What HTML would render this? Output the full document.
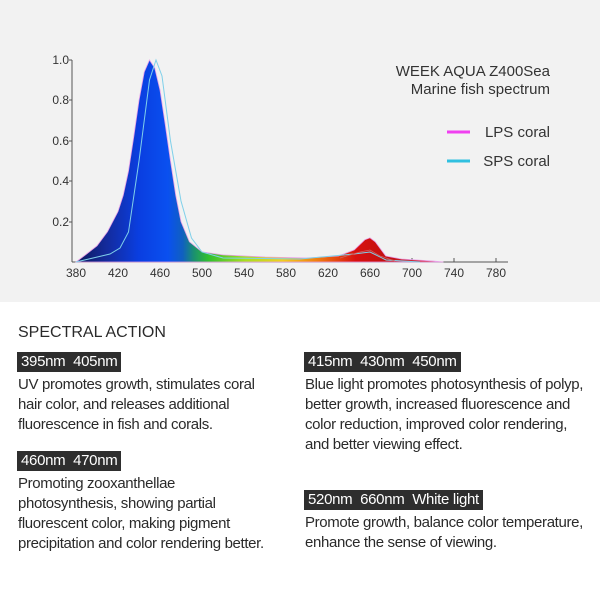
<!DOCTYPE html>
<html><head><meta charset="utf-8"><style>
body{margin:0;width:600px;height:600px;background:#fff;font-family:"Liberation Sans",sans-serif;position:relative;overflow:hidden}
.t{position:absolute;color:#2a2a2a;font-size:15px;line-height:20px;letter-spacing:-0.35px;white-space:nowrap}
.lb{position:absolute;background:#2e2e2e;color:#fff;font-size:15px;line-height:20px;padding:0 4px;white-space:nowrap;letter-spacing:-0.3px}
</style></head><body>
<svg width="600" height="302" style="position:absolute;left:0;top:0">
<defs>
<linearGradient id="g" gradientUnits="userSpaceOnUse" x1="76" y1="0" x2="444" y2="0">
<stop offset="0" stop-color="#0a1a5a"/>
<stop offset="0.08" stop-color="#142a9a"/>
<stop offset="0.17" stop-color="#0a3ee0"/>
<stop offset="0.25" stop-color="#0a50f0"/>
<stop offset="0.29" stop-color="#1060c0"/>
<stop offset="0.32" stop-color="#1a9070"/>
<stop offset="0.36" stop-color="#30c030"/>
<stop offset="0.46" stop-color="#a8e020"/>
<stop offset="0.56" stop-color="#f0d020"/>
<stop offset="0.66" stop-color="#f07a10"/>
<stop offset="0.76" stop-color="#d81010"/>
<stop offset="0.85" stop-color="#c01010"/>
<stop offset="1" stop-color="#e04060"/>
</linearGradient>
</defs>
<rect width="600" height="302" fill="#f2f2f2"/>
<g font-size="12" fill="#333" text-anchor="end">
<text x="69" y="64">1.0</text><text x="69" y="104">0.8</text><text x="69" y="145">0.6</text><text x="69" y="185">0.4</text><text x="69" y="226">0.2</text>
</g>
<g stroke="#555" stroke-width="1">
<line x1="72" y1="60" x2="72" y2="262"/><line x1="72" y1="262" x2="508" y2="262"/>
<line x1="69" y1="60" x2="72" y2="60"/><line x1="69" y1="100" x2="72" y2="100"/><line x1="69" y1="141" x2="72" y2="141"/><line x1="69" y1="181" x2="72" y2="181"/><line x1="69" y1="222" x2="72" y2="222"/>
<line x1="118" y1="262" x2="118" y2="258"/><line x1="160" y1="262" x2="160" y2="258"/><line x1="202" y1="262" x2="202" y2="258"/><line x1="244" y1="262" x2="244" y2="258"/><line x1="286" y1="262" x2="286" y2="258"/><line x1="328" y1="262" x2="328" y2="258"/><line x1="370" y1="262" x2="370" y2="258"/><line x1="412" y1="262" x2="412" y2="258"/><line x1="454" y1="262" x2="454" y2="258"/><line x1="496" y1="262" x2="496" y2="258"/>
</g>
<g font-size="12" fill="#333" text-anchor="middle">
<text x="76" y="277">380</text><text x="118" y="277">420</text><text x="160" y="277">460</text><text x="202" y="277">500</text><text x="244" y="277">540</text><text x="286" y="277">580</text><text x="328" y="277">620</text><text x="370" y="277">660</text><text x="412" y="277">700</text><text x="454" y="277">740</text><text x="496" y="277">780</text>
</g>
<path fill="url(#g)" stroke="#e8a0e8" stroke-width="0.8" d="M76,262 L86.5,254 L97,245.8 L107.5,231.7 L112.75,221.6 L118,211.5 L123.25,195.3 L128.5,171 L133.75,136.8 L139,100.4 L144.25,72 L149.5,60 L154.75,68 L160,90 L165.25,124.6 L170.5,161 L175.75,195.3 L181,221.6 L189.4,241.8 L202,251.9 L223,254.9 L265,257 L307,258 L338.5,256 L354.25,249.9 L364.75,239.8 L370,237.8 L375.25,241.8 L385.75,256 L401.5,259 L433,261 L443.5,262 Z"/>
<path fill="none" stroke="#7fd0ea" stroke-width="1" d="M76,262 L110,254 L120,248 L128.5,232 L139,161 L149.5,80 L156,60 L162,76 L170.5,141 L181,201 L191.5,238 L202,252 L223,258 L300,259 L354,254 L370,252 L386,260 L420,262"/>
<path fill="none" stroke="#d06060" stroke-width="0.8" d="M340,258 L360,252 L370,250 L380,256 L395,261"/>
<g font-size="15" fill="#333" text-anchor="end">
<text x="550" y="76">WEEK AQUA Z400Sea</text><text x="550" y="94">Marine fish spectrum</text>
<text x="550" y="137">LPS coral</text><text x="550" y="166">SPS coral</text>
</g>
<line x1="447" y1="132" x2="470" y2="132" stroke="#f040f0" stroke-width="3"/>
<line x1="447" y1="161" x2="470" y2="161" stroke="#30c0e0" stroke-width="3"/>
</svg>
<div class="t" style="left:18px;top:323px;font-size:16px;letter-spacing:0">SPECTRAL ACTION</div>
<div class="lb" style="left:17px;top:352px">395nm&nbsp; 405nm</div>
<div class="t" style="left:18px;top:375px">UV promotes growth, stimulates coral<br>hair color, and releases additional<br>fluorescence in fish and corals.</div>
<div class="lb" style="left:304px;top:352px">415nm&nbsp; 430nm&nbsp; 450nm</div>
<div class="t" style="left:305px;top:375px">Blue light promotes photosynthesis of polyp,<br>better growth, increased fluorescence and<br>color reduction, improved color rendering,<br>and better viewing effect.</div>
<div class="lb" style="left:17px;top:451px">460nm&nbsp; 470nm</div>
<div class="t" style="left:18px;top:474px">Promoting zooxanthellae<br>photosynthesis, showing partial<br>fluorescent color, making pigment<br>precipitation and color rendering better.</div>
<div class="lb" style="left:304px;top:490px">520nm&nbsp; 660nm&nbsp; White light</div>
<div class="t" style="left:305px;top:513px">Promote growth, balance color temperature,<br>enhance the sense of viewing.</div>
</body></html>
